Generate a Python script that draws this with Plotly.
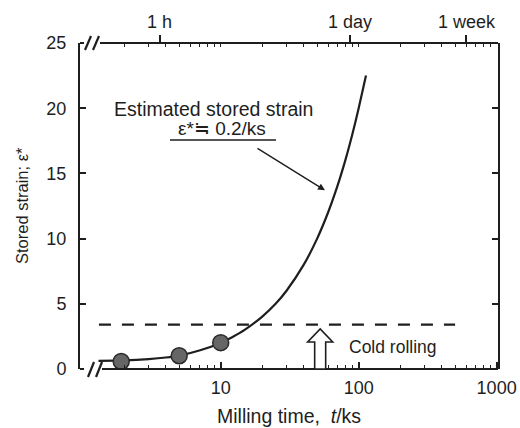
import math
import plotly.graph_objects as go

# ---------------- data ----------------
curve_t = [1.3, 2, 3, 4, 5, 7, 10, 12, 15, 20, 25, 30, 40, 50, 60, 70, 80, 90, 100, 113]
curve_eps = [0.63, 0.66, 0.76, 0.88, 1.03, 1.42, 2.0, 2.42, 3.02, 4.02, 5.0, 6.0,
             8.0, 10.0, 12.0, 14.0, 16.0, 18.0, 20.0, 22.5]
meas_t = [1.9, 5, 10]
meas_eps = [0.58, 1.02, 2.02]
cold_rolling_t = [1.31, 500]
cold_rolling_eps = [3.4, 3.4]
cold_arrow_t = 52.6
arrow_tip_t = 57
arrow_tip_eps = 13.7

x_major = [10, 100, 1000]
x_major_text = ["10", "100", "1000"]
x_minor = [2, 3, 4, 5, 6, 7, 8, 9, 20, 30, 40, 50, 60, 70, 80, 90,
           200, 300, 400, 500, 600, 700, 800, 900]
top_vals = [3.6, 86.4, 604.8]
top_text = ["1 h", "1 day", "1 week"]
y_ticks = [0, 5, 10, 15, 20, 25]

# ---------------- layout helpers ----------------
W, H = 520, 428
L, R, T, B = 80, 22, 43, 59
PW, PH = W - L - R, H - T - B
FONT = "Liberation Sans, Arial, sans-serif"
INK = "#1e1e1e"


def px(x):
    return (x - L) / PW


def py(y):
    return (H - B - y) / PH


fig = go.Figure()

fig.add_trace(go.Scatter(x=cold_rolling_t, y=cold_rolling_eps, mode="lines",
                         line=dict(color=INK, width=2.2, dash="12px,11px"),
                         hoverinfo="skip", showlegend=False))
fig.add_trace(go.Scatter(x=curve_t, y=curve_eps, mode="lines",
                         line=dict(color=INK, width=2.2, shape="spline", smoothing=0.6),
                         showlegend=False))
fig.add_trace(go.Scatter(x=meas_t, y=meas_eps, mode="markers",
                         marker=dict(size=16, color="#666666",
                                     line=dict(color="#2a2a2a", width=1.5)),
                         showlegend=False))
# invisible trace to activate top axis
fig.add_trace(go.Scatter(x=[10], y=[0], xaxis="x2", yaxis="y", mode="markers",
                         marker=dict(opacity=0), hoverinfo="skip", showlegend=False))

shapes = []
lw = 2
# frame horizontal segments with break marks
for yy in (0, 1):
    shapes.append(dict(type="line", xref="paper", yref="paper", x0=0, x1=px(84),
                       y0=yy, y1=yy, line=dict(color=INK, width=lw), layer="above"))
shapes.append(dict(type="line", xref="paper", yref="paper", x0=px(100), x1=1,
                   y0=1, y1=1, line=dict(color=INK, width=lw), layer="above"))
shapes.append(dict(type="line", xref="paper", yref="paper", x0=px(102), x1=1,
                   y0=0, y1=0, line=dict(color=INK, width=lw), layer="above"))
for (x0, y0, x1, y1) in [(85, 50, 91, 36), (93, 50, 99, 36),
                         (88, 377, 94, 362), (96, 377, 102, 362)]:
    shapes.append(dict(type="line", xref="paper", yref="paper",
                       x0=px(x0), y0=py(y0), x1=px(x1), y1=py(y1),
                       line=dict(color=INK, width=2.2), layer="above"))
# underline of formula
shapes.append(dict(type="line", xref="paper", yref="paper",
                   x0=px(170), x1=px(276), y0=py(140), y1=py(140),
                   line=dict(color=INK, width=1.5)))
# hollow cold-rolling arrow
shapes.append(dict(type="path", xref="x", yref="y", xsizemode="pixel", ysizemode="pixel",
                   xanchor=cold_arrow_t, yanchor=0,
                   path="M -5.5 0 L -5.5 27 L -12.5 27 L 0 40 L 12.5 27 L 5.5 27 L 5.5 0 Z",
                   fillcolor="white", line=dict(color=INK, width=1.6), layer="above"))


def label(x, y, text, size, **kw):
    d = dict(xref="paper", yref="paper", x=px(x), y=py(y), text=text, showarrow=False,
             xanchor="center", yanchor="middle", font=dict(family=FONT, size=size, color=INK))
    d.update(kw)
    return d


annotations = [
    label(213, 109, "Estimated stored strain", 19.5),
    label(222, 128, "ε*≒ 0.2/ks", 19),
    dict(xref="x", yref="y", x=math.log10(arrow_tip_t), y=arrow_tip_eps, text="",
         showarrow=True, ax=-69, ay=-43, arrowhead=2, arrowsize=1.0, arrowwidth=1.4,
         arrowcolor=INK, standoff=0),
    label(393, 347, "Cold rolling", 17.5),
    label(289, 416, "Milling time,\u00a0\u00a0<i>t</i>/ks", 19.5),
    label(22, 206, "Stored strain; ε*", 16.5, textangle=-90),
]

xrange = [-0.02, 3.01]
TF = dict(size=18)
fig.update_layout(
    width=W, height=H, margin=dict(l=L, r=R, t=T, b=B, autoexpand=False),
    paper_bgcolor="white", plot_bgcolor="white",
    font=dict(family=FONT, color=INK, size=17),
    xaxis=dict(type="log", range=xrange, showline=False, showgrid=False, zeroline=False,
               tickmode="array", tickvals=x_major, ticktext=x_major_text,
               ticks="inside", ticklen=7, tickwidth=1.5, tickcolor=INK,
               ticklabelstandoff=6, mirror=False,
               minor=dict(tickmode="array", tickvals=x_minor, ticks="inside",
                          ticklen=4, tickwidth=1.3, tickcolor=INK),
               tickfont=TF),
    xaxis2=dict(type="log", range=xrange, overlaying="x", side="top", anchor="y",
                showline=False, showgrid=False, zeroline=False,
                tickmode="array", tickvals=top_vals, ticktext=top_text,
                ticks="outside", ticklen=7, tickwidth=1.5, tickcolor=INK,
                minor=dict(tickmode="array", tickvals=x_minor + [10, 100], ticks="inside",
                           ticklen=4, tickwidth=1.3, tickcolor=INK),
                tickfont=TF),
    yaxis=dict(range=[0, 25], showline=True, linecolor=INK, linewidth=lw, mirror="ticks",
               showgrid=False, zeroline=False, tickmode="array", tickvals=y_ticks,
               ticks="inside", ticklen=6, tickwidth=1.5, tickcolor=INK,
               ticklabelstandoff=8, tickfont=TF),
    shapes=shapes, annotations=annotations,
)

fig.write_html("out.html")
